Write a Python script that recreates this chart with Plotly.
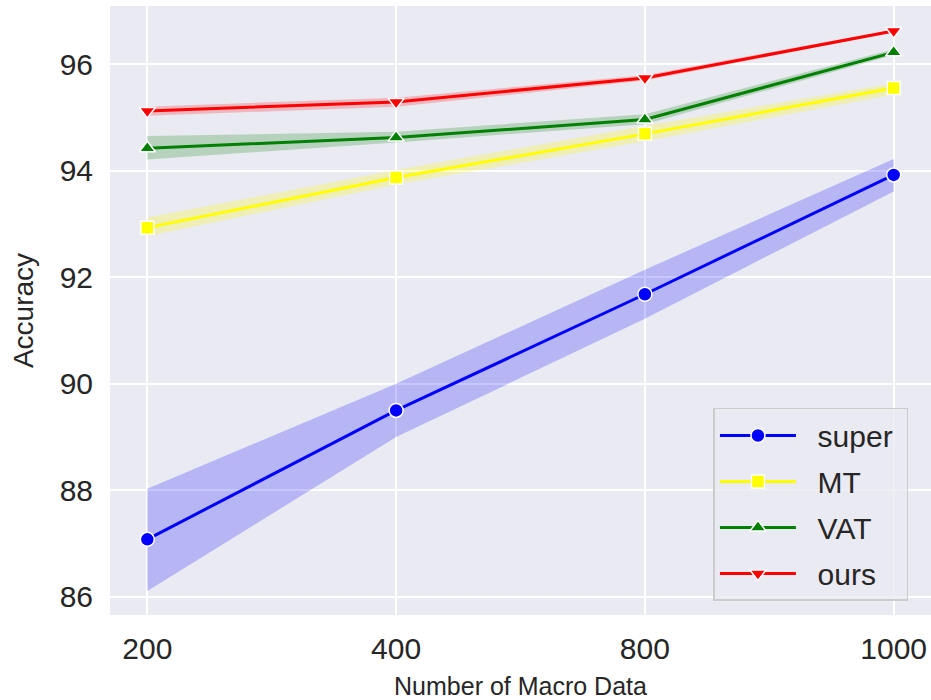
import plotly.graph_objects as go

x_labels = ["200", "400", "800", "1000"]
x_pos = [0, 1, 2, 3]

super_mean = [87.08, 89.50, 91.68, 93.92]
super_lo = [86.11, 89.00, 91.22, 93.61]
super_hi = [88.03, 90.00, 92.14, 94.22]

mt_mean = [92.93, 93.87, 94.69, 95.55]
mt_lo = [92.77, 93.74, 94.55, 95.43]
mt_hi = [93.12, 94.01, 94.84, 95.64]

vat_mean = [94.42, 94.62, 94.96, 96.22]
vat_lo = [94.21, 94.53, 94.87, 96.17]
vat_hi = [94.65, 94.73, 95.06, 96.28]

ours_mean = [95.12, 95.29, 95.74, 96.62]
ours_lo = [95.03, 95.20, 95.69, 96.60]
ours_hi = [95.20, 95.37, 95.79, 96.65]

series = [
    ("super", super_mean, super_lo, super_hi, "#0000ff", "rgba(0,0,255,0.22)", "circle", 14),
    ("MT", mt_mean, mt_lo, mt_hi, "#ffff00", "rgba(255,255,0,0.25)", "square", 13),
    ("VAT", vat_mean, vat_lo, vat_hi, "#008000", "rgba(0,128,0,0.22)", "triangle-up", 14),
    ("ours", ours_mean, ours_lo, ours_hi, "#ff0000", "rgba(255,0,0,0.22)", "triangle-down", 14),
]

fig = go.Figure()
for name, m, lo, hi, col, fcol, sym, sz in series:
    fig.add_trace(go.Scatter(x=x_pos, y=hi, mode="lines", line=dict(width=0, color=fcol),
                             showlegend=False, hoverinfo="skip"))
    fig.add_trace(go.Scatter(x=x_pos, y=lo, mode="lines", line=dict(width=0, color=fcol),
                             fill="tonexty", fillcolor=fcol, showlegend=False, hoverinfo="skip"))
for name, m, lo, hi, col, fcol, sym, sz in series:
    fig.add_trace(go.Scatter(x=x_pos, y=m, mode="lines+markers",
                             name="\u00a0\u00a0" + name + "\u00a0", legendgroup=name,
                             line=dict(color=col, width=3),
                             marker=dict(symbol=sym, size=sz, color=col,
                                         line=dict(color="white", width=1.5))))

fig.update_layout(
    width=931, height=700,
    margin=dict(l=110, r=0, t=6, b=85),
    paper_bgcolor="white",
    plot_bgcolor="#eaeaf2",
    font=dict(family="Liberation Sans, Arial, sans-serif", color="#262626"),
    xaxis=dict(
        tickmode="array", tickvals=x_pos, ticktext=x_labels,
        range=[-0.15, 3.15], showgrid=True, gridcolor="white", gridwidth=1.5,
        zeroline=False, showline=False, ticks="",
        tickfont=dict(size=30), ticklabelstandoff=13,
        title=dict(text="Number of Macro Data", font=dict(size=25), standoff=14),
    ),
    yaxis=dict(
        range=[85.66, 97.09], tickvals=[86, 88, 90, 92, 94, 96],
        showgrid=True, gridcolor="white", gridwidth=1.5,
        zeroline=False, showline=False, ticks="",
        tickfont=dict(size=30), ticklabelstandoff=16,
        title=dict(text="Accuracy", font=dict(size=28), standoff=17),
    ),
    legend=dict(
        x=0.735, y=0.023, xanchor="left", yanchor="bottom", traceorder="grouped",
        bgcolor="rgba(234,234,242,0.8)", bordercolor="#cccccc", borderwidth=1.5,
        font=dict(size=30, color="#262626"), tracegroupgap=4, itemwidth=76,
    ),
)

fig.write_html("out.html")
